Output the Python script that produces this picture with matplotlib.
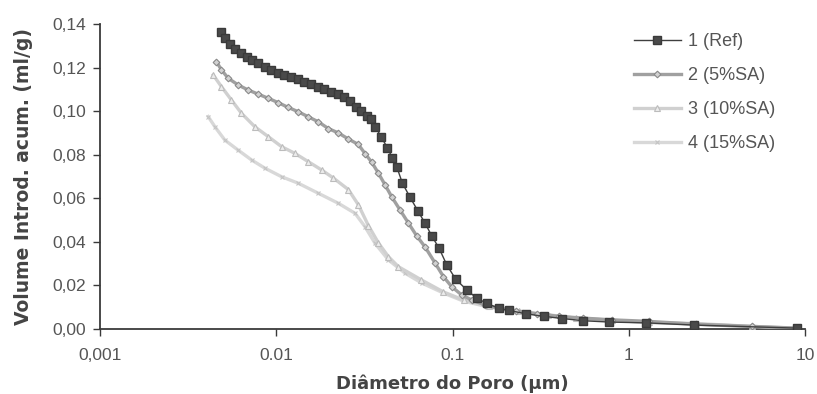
import matplotlib
matplotlib.use("Agg")
import matplotlib.pyplot as plt
from matplotlib.ticker import FixedLocator, NullLocator

# ---------------- data ----------------
d1 = [0.00483, 0.00511, 0.00546, 0.00582, 0.00630, 0.00678, 0.00730, 0.00790, 0.00863, 0.00933,
      0.01017, 0.01110, 0.01212, 0.01321, 0.01442, 0.01575, 0.01717, 0.01874, 0.02046, 0.02230,
      0.02434, 0.02623, 0.02829, 0.03041, 0.03258, 0.03442, 0.03651, 0.03950, 0.04272, 0.04561,
      0.04825, 0.05198, 0.05751, 0.06351, 0.06997, 0.07628, 0.08403, 0.09281, 0.1044, 0.1206,
      0.1374, 0.1566, 0.1825, 0.21, 0.26, 0.33, 0.42, 0.55, 0.77, 1.26, 2.35, 9.0]
v1 = [0.1362, 0.1334, 0.1308, 0.1284, 0.1265, 0.1250, 0.1235, 0.1219, 0.1204, 0.1189,
      0.1176, 0.1166, 0.1155, 0.1146, 0.1135, 0.1124, 0.1112, 0.1100, 0.1089, 0.1078,
      0.1063, 0.1048, 0.1021, 0.1000, 0.0979, 0.0966, 0.0927, 0.0881, 0.0831, 0.0785,
      0.0745, 0.0669, 0.0604, 0.0543, 0.0485, 0.0427, 0.0370, 0.0294, 0.0228, 0.0179,
      0.0141, 0.0118, 0.0095, 0.0085, 0.0070, 0.0058, 0.0048, 0.0038, 0.0032, 0.0028, 0.0018, 0.0004]

d2 = [0.00458, 0.00489, 0.00534, 0.00608, 0.00693, 0.00790, 0.00901, 0.01026, 0.01170, 0.01334,
      0.01520, 0.01733, 0.01975, 0.02251, 0.02566, 0.02924, 0.03203, 0.03479, 0.03799, 0.04147,
      0.04518, 0.05043, 0.05623, 0.06270, 0.06997, 0.07975, 0.08889, 0.09908, 0.1129, 0.1288,
      0.1534, 0.1825, 0.23, 0.30, 0.40, 0.55, 0.80, 1.30, 2.40, 5.0, 9.0]
v2 = [0.1227, 0.1189, 0.1151, 0.1120, 0.1097, 0.1078, 0.1059, 0.1039, 0.1017, 0.0997,
      0.0974, 0.0951, 0.0920, 0.0900, 0.0872, 0.0847, 0.0803, 0.0766, 0.0715, 0.0661,
      0.0607, 0.0546, 0.0486, 0.0427, 0.0376, 0.0302, 0.0240, 0.0194, 0.0156, 0.0133,
      0.0110, 0.0095, 0.0082, 0.0070, 0.0058, 0.0050, 0.0042, 0.0035, 0.0022, 0.0012, 0.0004]

d3 = [0.00439, 0.00489, 0.00557, 0.00635, 0.00757, 0.00901, 0.01072, 0.01277, 0.01520, 0.01809,
      0.02109, 0.02566, 0.02924, 0.03331, 0.03799, 0.04328, 0.04932, 0.06668, 0.0889, 0.1155,
      0.1601, 0.2371, 0.35, 0.50, 0.80, 1.30, 2.40, 5.0, 9.0]
v3 = [0.1166, 0.1112, 0.1051, 0.0990, 0.0928, 0.0883, 0.0837, 0.0806, 0.0768, 0.0730,
      0.0693, 0.0640, 0.0570, 0.0475, 0.0395, 0.0332, 0.0286, 0.0225, 0.0170, 0.0133,
      0.0106, 0.0083, 0.0065, 0.0050, 0.0040, 0.0030, 0.0025, 0.0012, 0.0003]

d4 = [0.00411, 0.00449, 0.00511, 0.00608, 0.00724, 0.00863, 0.01072, 0.01334, 0.01733, 0.02251,
      0.02801, 0.03192, 0.03637, 0.04328, 0.05385, 0.06694, 0.0889, 0.1155, 0.1601, 0.2371,
      0.35, 0.50, 0.80, 1.30, 2.40, 5.0, 9.0]
v4 = [0.0975, 0.0928, 0.0867, 0.0821, 0.0776, 0.0738, 0.0699, 0.0669, 0.0623, 0.0577,
      0.0531, 0.0469, 0.0393, 0.0317, 0.0256, 0.0211, 0.0165, 0.0128, 0.0101, 0.0078,
      0.0062, 0.0050, 0.0040, 0.0030, 0.0022, 0.0010, 0.0002]

series_labels = ["1 (Ref)", "2 (5%SA)", "3 (10%SA)", "4 (15%SA)"]
x_ticks = [0.001, 0.01, 0.1, 1, 10]
x_ticklabels = ["0,001", "0.01", "0.1", "1", "10"]
y_ticks = [0.00, 0.02, 0.04, 0.06, 0.08, 0.10, 0.12, 0.14]
y_ticklabels = ["0,00", "0,02", "0,04", "0,06", "0,08", "0,10", "0,12", "0,14"]

# ---------------- figure ----------------
plt.rcParams['font.family'] = ['Liberation Sans', 'DejaVu Sans']
fig = plt.figure(figsize=(8.17, 3.94), dpi=100)
ax = fig.add_axes([100 / 817, 1 - 329 / 394, (805 - 100) / 817, (329 - 24) / 394])

ax.plot(d1, v1, color="#3f3f3f", lw=1.0, marker="s", ms=5.4, mfc="#4a4a4a", mec="#3a3a3a",
        label=series_labels[0], zorder=5)
ax.plot(d2, v2, color="#a0a0a0", lw=2.4, marker="D", ms=3.4, mfc="#d2d2d2", mec="#8a8a8a",
        mew=0.8, label=series_labels[1], zorder=4)
ax.plot(d3, v3, color="#d0d0d0", lw=2.4, marker="^", ms=3.8, mfc="#ececec", mec="#bcbcbc",
        mew=0.8, label=series_labels[2], zorder=3)
ax.plot(d4, v4, color="#d8d8d8", lw=2.4, marker="x", ms=3.4, mec="#c4c4c4",
        mew=0.8, label=series_labels[3], zorder=2)

ax.set_xscale("log")
ax.set_xlim(0.001, 10)
ax.set_ylim(0, 0.14)
ax.xaxis.set_major_locator(FixedLocator(x_ticks))
ax.xaxis.set_minor_locator(NullLocator())
ax.set_xticklabels(x_ticklabels)
ax.set_yticks(y_ticks)
ax.set_yticklabels(y_ticklabels)

for s in ["top", "right"]:
    ax.spines[s].set_visible(False)
for s in ["left", "bottom"]:
    ax.spines[s].set_color("#3a3a3a")
    ax.spines[s].set_linewidth(1.3)

ax.tick_params(axis="both", direction="out", length=5, width=1.0, color="#3a3a3a",
               labelsize=12.5, labelcolor="#555555")
ax.tick_params(axis="x", pad=9)
ax.tick_params(axis="y", pad=5)

ax.set_xlabel("Diâmetro do Poro (µm)", fontsize=13, fontweight="bold", color="#444444",
              labelpad=8, family=["DejaVu Sans"])
ax.set_ylabel("Volume Introd. acum. (ml/g)", fontsize=13.5, fontweight="bold", color="#444444",
              labelpad=14, family=["DejaVu Sans"])

leg = ax.legend(loc="upper left", bbox_to_anchor=(634 / 817, 1 - 33 / 394),
                bbox_transform=fig.transFigure, frameon=False, fontsize=13,
                handlelength=2.6, handletextpad=0.4, labelspacing=0.95, borderaxespad=0,
                borderpad=0)
for t in leg.get_texts():
    t.set_color("#555555")

fig.savefig("out.png", dpi=100, facecolor="white")
